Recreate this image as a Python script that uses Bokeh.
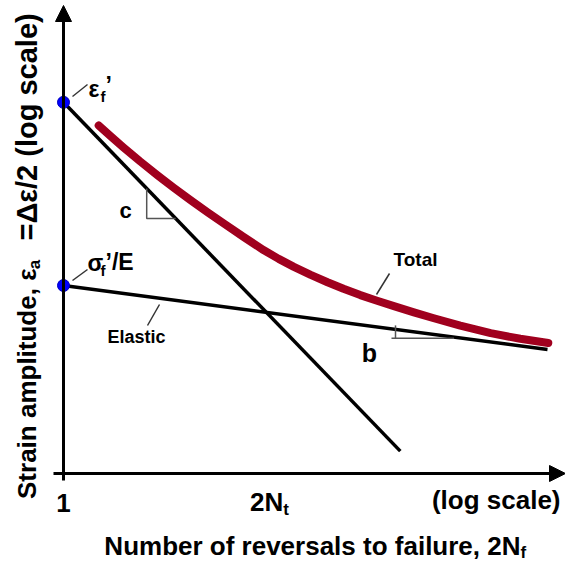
import math
from bokeh.plotting import figure
from bokeh.models import Range1d, Arrow, NormalHead, Label
from bokeh.embed import file_html
from bokeh.resources import INLINE

# ---- data (schematic, in log decades) ----
plastic_logN = [0.0, 4.21]
plastic_logeps = [4.64, 0.28]
elastic_logN = [0.0, 6.05]
elastic_logeps = [2.35, 1.55]
total_logN = [0.44, 0.59, 0.75, 0.96, 1.18, 1.38, 1.59, 1.8, 2.0, 2.25, 2.5, 2.69, 2.88,
              3.09, 3.3, 3.5, 3.71, 3.91, 4.13, 4.38, 4.63, 4.96, 5.34, 5.71, 6.06]
total_logeps = [4.35, 4.215, 4.076, 3.90, 3.724, 3.57, 3.415, 3.266, 3.128, 2.958, 2.793,
                2.683, 2.583, 2.483, 2.391, 2.309, 2.23, 2.162, 2.092, 2.014, 1.941,
                1.849, 1.754, 1.684, 1.631]
coef_logN = [0.0, 0.0]
coef_logeps = [4.64, 2.35]
x_tick_labels = ["1", "2N", "t"]

FONT = "Liberation Sans"
K = 80.0  # px per decade (for annotation placement)


def P(px, py):
    return ((px - 63) / K, (473 - py) / K)


def line_y(xs, ys, x):
    return ys[0] + (ys[1] - ys[0]) * (x - xs[0]) / (xs[1] - xs[0])


def line_x(xs, ys, y):
    return xs[0] + (xs[1] - xs[0]) * (y - ys[0]) / (ys[1] - ys[0])


p = figure(width=565, height=562,
           x_range=Range1d(-63 / K, 502 / K), y_range=Range1d(-89 / K, 473 / K),
           x_axis_type=None, y_axis_type=None,
           output_backend="svg", toolbar_location=None, min_border=0)
p.grid.visible = False
p.outline_line_color = None
p.background_fill_color = "white"

# axes arrows
x0, _ = P(53, 473)
xe, _ = P(565, 473)
_, y0 = P(63, 480)
_, ye = P(63, 5)
p.add_layout(Arrow(end=NormalHead(size=16, fill_color="black", line_color="black", line_width=1),
                   x_start=x0, y_start=0, x_end=xe, y_end=0, line_width=3, line_color="black"))
p.add_layout(Arrow(end=NormalHead(size=16, fill_color="black", line_color="black", line_width=1),
                   x_start=0, y_start=y0, x_end=0, y_end=ye, line_width=3, line_color="black"))

# lines
p.line(plastic_logN, plastic_logeps, line_width=3.5, line_color="black")
p.line(elastic_logN, elastic_logeps, line_width=3.5, line_color="black")
p.line(total_logN, total_logeps, line_width=8, line_color="#A0001E",
       line_cap="round", line_join="round")

# slope triangles
cx = 1.04
cy_top = line_y(plastic_logN, plastic_logeps, cx)
cy_bot = cy_top - 0.375
p.line([cx, cx, line_x(plastic_logN, plastic_logeps, cy_bot)], [cy_top, cy_bot, cy_bot],
       line_width=1.5, line_color="#555555")
bx = 4.15
by_line = line_y(elastic_logN, elastic_logeps, bx)
by_bot = by_line - 0.11
p.line([bx, bx], [by_line + 0.05, by_bot], line_width=1.5, line_color="#555555")
p.line([bx - 0.05, line_x(elastic_logN, elastic_logeps, by_bot) - 0.1], [by_bot, by_bot],
       line_width=1.5, line_color="#555555")

# coefficient points
p.scatter(coef_logN, coef_logeps, size=12, fill_color="#0000FF", line_color="#0000C0")

# leader lines
for (a, b) in [((72, 96), (87, 84)), ((72, 280), (87, 269)),
               ((159, 304), (147, 325)), ((389, 273), (376, 294))]:
    xa, ya = P(*a)
    xb, yb = P(*b)
    p.line([xa, xb], [ya, yb], line_width=1.5, line_color="#333333")


def lab(text, px, py, size, align="left", baseline="middle", angle=0.0):
    x, y = P(px, py)
    p.add_layout(Label(x=x, y=y, text=text, text_font=FONT, text_font_size=f"{size}px",
                       text_font_style="bold", text_color="black",
                       text_align=align, text_baseline=baseline, angle=angle))


# point labels
lab("ε", 88, 88, 23)
lab("f", 100, 96, 15)
lab("’", 105, 84, 23)
lab("σ", 87, 262, 23)
lab("f", 100, 270, 15)
lab("’/E", 105, 261, 23)

lab("c", 125, 210, 22, align="center")
lab("b", 369, 352, 25, align="center")
lab("Elastic", 107, 336, 18)
lab("Total", 393, 259, 19)

# x tick labels
lab(x_tick_labels[0], 63, 502, 26, align="center")
nt = (elastic_logeps[0] - plastic_logeps[0]) / (
    (plastic_logeps[1] - plastic_logeps[0]) / plastic_logN[1]
    - (elastic_logeps[1] - elastic_logeps[0]) / elastic_logN[1])
ntx = 63 + nt * K
lab(x_tick_labels[1], ntx + 17, 501, 26, align="right")
lab(x_tick_labels[2], ntx + 17, 509, 17)
lab("(log scale)", 560, 499, 26, align="right")

# axis titles
lab("Number of reversals to failure, 2N", 520, 545, 26, align="right")
lab("f", 520, 552, 17)

A = math.pi / 2
lab("Strain amplitude, ε", 26, 268, 26, align="right", angle=A)
lab("a", 34, 264, 17, align="center", angle=A)
lab("=Δε/2 (log scale)", 26, 240, 29, angle=A)

open("out.html", "w").write(file_html(p, INLINE))
